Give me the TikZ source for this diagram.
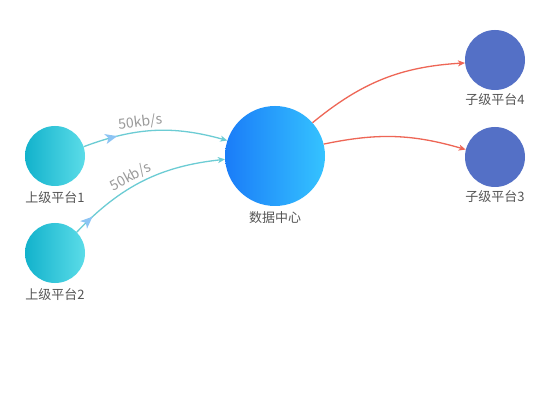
\documentclass[tikz,border=0pt]{standalone}
\usepackage{fontspec}
\setmainfont{Noto Sans CJK SC}
\usetikzlibrary{arrows.meta,decorations.markings}
\definecolor{tealA}{HTML}{12B2CC}
\definecolor{tealB}{HTML}{5BDCE8}
\definecolor{blueA}{HTML}{1A7CF8}
\definecolor{blueB}{HTML}{35C3FF}
\definecolor{childc}{HTML}{5470C6}
\definecolor{tealedge}{HTML}{6CCCD4}
\definecolor{rededge}{HTML}{EE6656}
\definecolor{midarrow}{HTML}{8CC4F4}
\definecolor{lblgray}{HTML}{555555}
\definecolor{edgelbl}{HTML}{9A9A9A}
\tikzset{
  upnode/.style={circle,minimum size=60pt,inner sep=0pt,draw=none,left color=tealA,right color=tealB},
  centernode/.style={circle,minimum size=100pt,inner sep=0pt,draw=none,left color=blueA,right color=blueB},
  childnode/.style={circle,minimum size=60pt,inner sep=0pt,draw=none,fill=childc},
  lbl/.style={text=lblgray,font=\fontsize{13}{15}\selectfont,inner sep=0pt},
  elbl/.style={text=edgelbl,font=\fontsize{14}{16}\selectfont,inner sep=2pt},
  inedge/.style={draw=tealedge,line width=1.3pt,-{Stealth[length=7pt,width=6pt,inset=2pt]}},
  outedge/.style={draw=rededge,line width=1.3pt,-{Stealth[length=7pt,width=6pt,inset=2pt]}},
  midmark/.style={postaction={decorate},decoration={markings,mark=at position #1 with {\arrow[midarrow]{Stealth[length=12pt,width=10pt,inset=3pt]}}}}
}
\begin{document}
\begin{tikzpicture}[x=1pt,y=-1pt]
\useasboundingbox[fill=white] (0,0) rectangle (550,420);
\node[upnode] (p1) at (55,156) {};
\node[upnode] (p2) at (55,253) {};
\node[centernode] (dc) at (275,156) {};
\node[childnode] (c4) at (495,60) {};
\node[childnode] (c3) at (495,157) {};
\node[lbl] (l1) at (55,198) {上级平台1};
\node[lbl] (l2) at (55,295) {上级平台2};
\node[lbl] (ldc) at (275,218) {数据中心};
\node[lbl] (l4) at (495,100) {子级平台4};
\node[lbl] (l3) at (495,197) {子级平台3};
\draw[inedge,midmark=0.24] (p1) to[bend left=18] node[elbl,pos=0.4,above,sloped] {50kb/s} (dc);
\draw[inedge,midmark=0.13] (p2) to[bend left=20] node[elbl,pos=0.44,above,sloped] {50kb/s} (dc);
\draw[outedge] (dc) to[bend left=18] (c4);
\draw[outedge] (dc) to[bend left=14] (c3);
\end{tikzpicture}
\end{document}
